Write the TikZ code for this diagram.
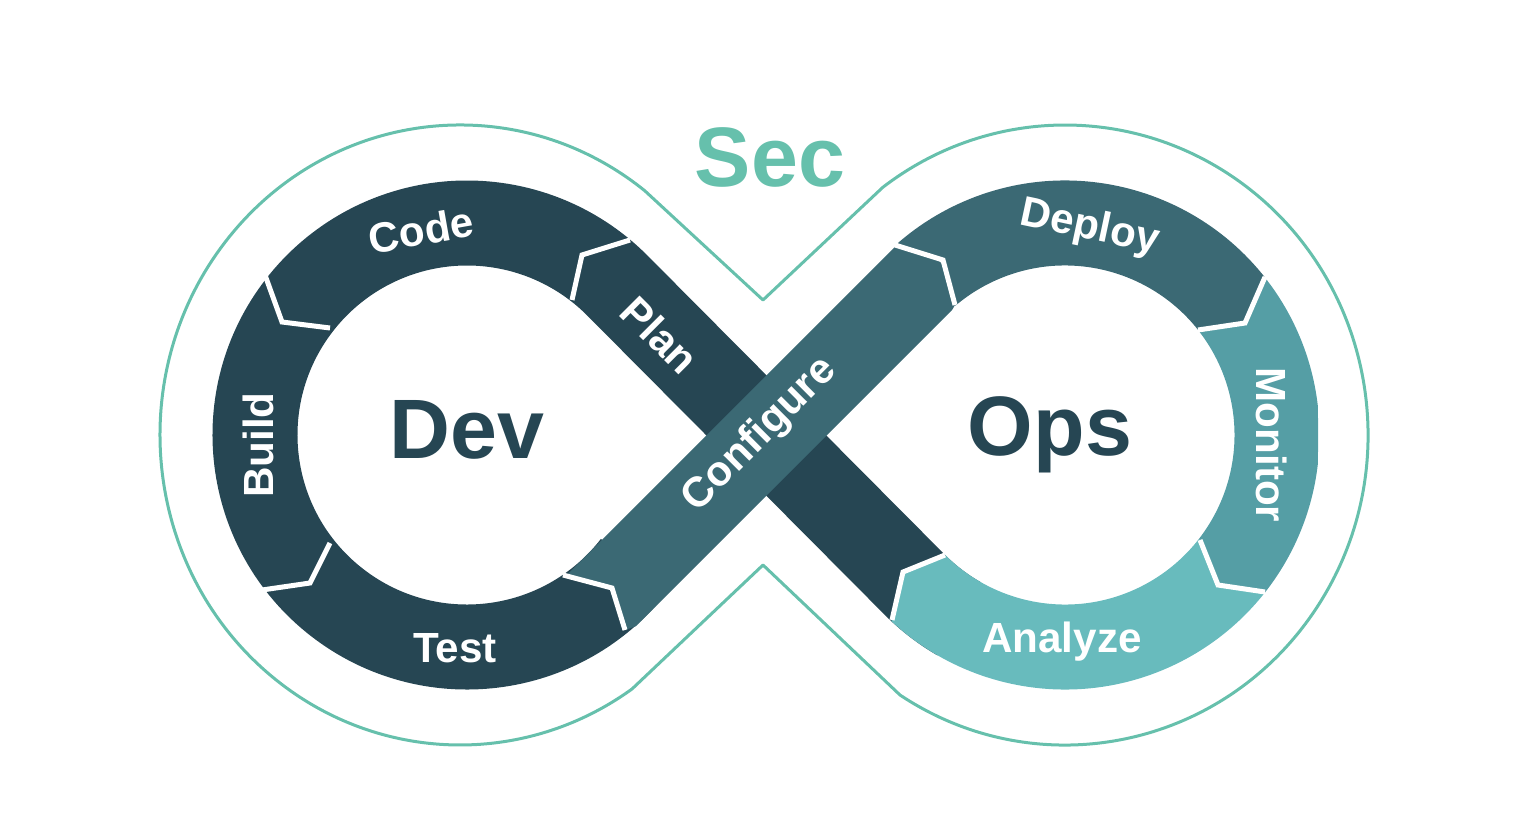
\documentclass[tikz,border=0pt]{standalone}
\usepackage{fontspec}
\setmainfont{Liberation Sans}
\definecolor{dk}{HTML}{264653}
\definecolor{md}{HTML}{3B6974}
\definecolor{mo}{HTML}{559EA5}
\definecolor{an}{HTML}{68BBBD}
\definecolor{tl}{HTML}{66C0AC}
\begin{document}
\begin{tikzpicture}[
  band/.style={line width=0.85cm},
  sepline/.style={white,line width=0.05cm,line join=miter},
  lbl/.style={white,font=\bfseries\fontsize{12}{12}\selectfont},
  big/.style={dk,font=\bfseries\fontsize{24}{24}\selectfont}]
\useasboundingbox (0,0) rectangle (15.36,8.19);
\coordinate (C1) at (4.67,3.84);
\coordinate (C2) at (10.65,3.84);
% outline
\draw[tl,line width=0.03cm,line join=round] (7.63,5.19) -- (6.447,6.283)
  arc[start angle=52,end angle=305,x radius=3.0cm,y radius=3.1cm]
  -- (7.63,2.54) -- (9.00,1.24)
  arc[start angle=237,end angle=487,x radius=3.03cm,y radius=3.1cm] -- cycle;
% dark: left lobe + Plan
\draw[dk,band] ([shift={(4.67,3.84)}]-38:2.12) arc[start angle=-38,end angle=-315,radius=2.12cm]
  -- (9.15,2.34) arc[start angle=225,end angle=240,radius=2.12cm];
% Analyze
\begin{scope}
\clip (C2) -- (12.00,2.79) -- (12.18,2.34) -- (12.65,2.27) -- (13.6,1.2) -- (13.6,0.5) -- (8.0,0.5)
  -- (8.92,1.99) -- (9.03,2.47) -- (9.45,2.64) -- cycle;
\draw[an,band] (C2) ++(210:2.12) arc[start angle=210,end angle=335,radius=2.12cm];
\end{scope}
% Monitor
\begin{scope}
\clip (C2) -- (12.00,2.79) -- (12.18,2.34) -- (12.65,2.27) -- (13.18,1.5) -- (13.18,7) -- (12.9,7)
  -- (12.65,5.42) -- (12.45,4.96) -- (11.98,4.89) -- cycle;
\draw[mo,band] (C2) ++(-50:2.12) arc[start angle=-50,end angle=50,radius=2.12cm];
\end{scope}
% Deploy
\begin{scope}
\clip (C2) -- (11.98,4.89) -- (12.45,4.96) -- (12.65,5.42) -- (13.2,8) -- (8.5,8)
  -- (8.95,5.74) -- (9.43,5.59) -- (9.55,5.14) -- cycle;
\draw[md,band] (C2) ++(25:2.12) arc[start angle=25,end angle=150,radius=2.12cm];
\end{scope}
% Configure
\begin{scope}
\clip (5.63,2.44) -- (6.12,2.31) -- (6.25,1.89) -- (8.0,2.5) -- (9.55,5.14) -- (9.43,5.59)
  -- (8.95,5.74) -- (6.5,4.4) -- (5.5,2.9) -- cycle;
\draw[md,band] (5.9,2.07) -- (9.4,5.57);
\end{scope}
% separators
\draw[sepline] (6.30,5.79) -- (5.82,5.64) -- (5.72,5.19);
\draw[sepline] (2.65,5.44) -- (2.82,4.97) -- (3.30,4.91);
\draw[sepline] (2.62,2.29) -- (3.10,2.36) -- (3.30,2.76);
\draw[sepline] (5.63,2.44) -- (6.12,2.31) -- (6.25,1.89);
\draw[sepline] (8.95,5.74) -- (9.43,5.59) -- (9.55,5.14);
\draw[sepline] (12.65,5.42) -- (12.45,4.96) -- (11.98,4.89);
\draw[sepline] (12.00,2.79) -- (12.18,2.34) -- (12.65,2.27);
\draw[sepline] (9.45,2.64) -- (9.03,2.47) -- (8.92,1.99);
% labels
\node[tl,font=\bfseries\fontsize{24}{24}\selectfont] (sec) at (7.70,6.62) {Sec};
\node[big] (dev) at (4.67,3.89) {Dev};
\node[big] (ops) at (10.50,3.84) {Ops};
\node[lbl,rotate=10] (code) at (4.21,5.89) {Code};
\node[lbl,rotate=90] (build) at (2.58,3.74) {Build};
\node[lbl] (test) at (4.55,1.71) {Test};
\node[lbl,rotate=-45] (plan) at (6.60,4.84) {Plan};
\node[lbl,rotate=45] (conf) at (7.60,3.84) {Configure};
\node[lbl,rotate=-12] (deploy) at (10.90,5.91) {Deploy};
\node[lbl,rotate=-90] (mon) at (12.72,3.74) {Monitor};
\node[lbl] (an) at (10.62,1.77) {Analyze};
\end{tikzpicture}
\end{document}
